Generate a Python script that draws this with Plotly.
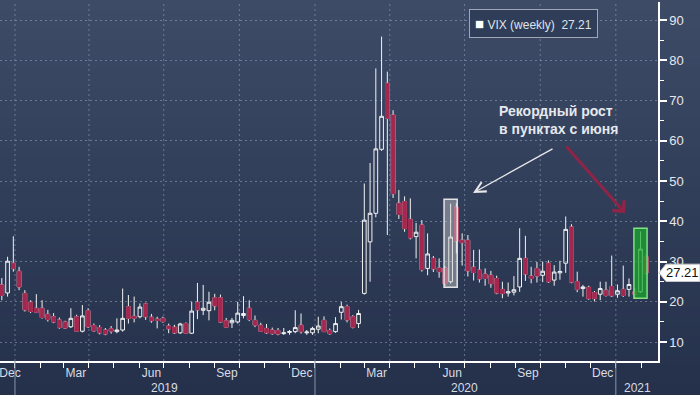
import pandas as pd
import plotly.graph_objects as go

# ---------------- data (weekly VIX candles) ----------------
week_start = "2018-12-16"   # first visible weekly bar (week ending)
opens = [24.2, 22.2, 29.6, 27.6, 22.1, 19.9, 18.4, 18.4, 16.9, 16.3, 15.5, 15.0, 13.8, 16.3, 12.7, 17.8,
         14.1, 13.6, 13.0, 13.3, 12.6, 13.0, 18.8, 16.4, 16.3, 19.5, 16.2, 15.7, 15.9, 14.0, 13.7, 12.3,
         14.6, 12.2, 19.9, 17.9, 17.8, 21.0, 21.0, 15.3, 14.8, 15.0, 16.6, 18.4, 15.4, 14.2, 13.4, 13.0,
         12.9, 12.1, 12.4, 12.6, 14.2, 12.3, 12.3, 13.2, 15.4, 12.9, 12.6, 17.4, 18.8, 16.3, 14.6, 22.1,
         34.9, 42.0, 57.9, 74.3, 66.4, 44.5, 44.9, 40.5, 36.2, 39.1, 28.3, 30.8, 28.4, 28.4, 25.0, 43.5,
         35.3, 35.3, 28.6, 27.9, 26.9, 26.6, 25.8, 23.1, 22.2, 22.4, 23.7, 30.8, 26.4, 28.3, 26.6, 29.6,
         25.4, 27.2, 29.6, 38.6, 25.0, 23.3, 23.6, 22.3, 21.9, 22.9, 23.8, 21.9, 23.1, 23.1, 22.5, 22.5,
         31.2]
highs = [25.9, 31.2, 36.3, 28.7, 22.9, 20.4, 21.9, 20.4, 18.0, 17.2, 16.1, 15.3, 18.4, 16.8, 19.2, 18.4,
         14.6, 14.2, 13.5, 14.0, 15.9, 23.3, 21.7, 21.3, 19.6, 19.8, 17.0, 16.3, 16.3, 14.6, 14.3, 14.8,
         14.9, 20.0, 24.7, 24.2, 22.5, 22.0, 21.8, 16.0, 16.0, 20.0, 21.4, 20.4, 16.6, 14.8, 14.5, 13.6,
         13.5, 13.5, 13.0, 17.9, 17.1, 13.0, 13.8, 16.3, 16.4, 13.4, 16.2, 20.0, 19.3, 16.7, 18.0, 49.4,
         54.5, 78.0, 85.9, 77.2, 67.6, 47.8, 46.2, 45.7, 39.6, 40.3, 37.0, 31.4, 30.8, 28.9, 44.4, 44.5,
         37.0, 36.6, 32.9, 33.0, 28.3, 27.7, 26.5, 25.0, 24.8, 26.4, 38.3, 36.4, 28.7, 29.9, 30.0, 30.3,
         29.1, 30.2, 41.2, 39.3, 27.5, 24.2, 24.0, 22.7, 25.0, 25.0, 31.5, 24.3, 29.0, 25.8, 23.5, 37.5,
         31.6]
lows = [20.4, 21.3, 27.5, 22.9, 17.6, 17.2, 17.2, 15.8, 15.1, 14.7, 13.3, 13.3, 13.5, 12.5, 12.4, 13.5,
        12.6, 11.9, 11.7, 12.1, 12.2, 12.6, 14.6, 14.9, 15.9, 15.5, 14.8, 13.4, 14.8, 12.2, 12.0, 12.0,
        12.0, 12.0, 15.7, 16.7, 15.4, 17.9, 14.8, 13.5, 13.5, 14.6, 15.9, 15.2, 13.7, 12.5, 12.0, 11.8,
        11.7, 11.8, 11.8, 12.2, 12.1, 11.8, 11.8, 12.2, 12.5, 11.8, 12.3, 15.6, 14.9, 13.4, 13.5, 21.8,
        25.0, 41.0, 57.5, 36.6, 45.8, 40.6, 37.4, 35.5, 30.8, 27.5, 26.6, 27.4, 26.0, 23.9, 24.5, 32.0,
        29.0, 26.3, 25.3, 24.8, 24.0, 23.5, 21.9, 20.9, 21.3, 21.6, 22.5, 25.2, 24.6, 24.8, 24.9, 24.7,
        24.0, 25.5, 27.2, 24.6, 22.4, 21.3, 20.5, 20.1, 20.4, 21.3, 21.2, 21.0, 21.2, 21.3, 21.0, 22.2,
        26.8]
closes = [21.6, 30.1, 28.3, 23.7, 18.0, 17.6, 17.4, 16.1, 15.6, 15.0, 13.6, 13.5, 15.9, 12.7, 16.5, 13.8,
          12.8, 12.3, 12.0, 12.7, 13.0, 15.9, 15.9, 15.9, 18.7, 16.3, 15.3, 15.4, 15.1, 13.3, 12.3, 14.5,
          12.2, 17.7, 18.0, 18.4, 19.9, 19.0, 15.0, 13.7, 15.4, 17.2, 17.1, 15.6, 14.2, 12.7, 12.3, 12.1,
          12.0, 12.3, 12.6, 13.6, 12.6, 12.5, 13.4, 14.0, 12.6, 12.1, 14.6, 18.8, 15.5, 13.7, 17.1, 40.3,
          42.0, 58.0, 66.1, 65.6, 46.9, 41.7, 38.2, 35.9, 37.3, 28.0, 31.9, 28.2, 27.5, 24.5, 36.1, 35.1,
          34.7, 27.7, 27.3, 25.7, 25.8, 24.5, 22.2, 22.05, 22.5, 23.0, 30.8, 26.9, 25.8, 26.4, 27.6, 25.0,
          27.4, 27.55, 38.0, 24.9, 23.1, 23.7, 20.8, 20.8, 23.3, 21.6, 21.5, 22.75, 21.6, 24.3, 21.9, 33.1,
          27.21]

month_labels = ["Dec", "Mar", "Jun", "Sep", "Dec", "Mar", "Jun", "Sep", "Dec"]
month_label_dates = ["2018-12-26", "2019-03-16", "2019-06-16", "2019-09-16", "2019-12-16",
                     "2020-03-16", "2020-06-16", "2020-09-16", "2020-12-16"]
year_labels = ["2019", "2020", "2021"]
year_label_dates = ["2019-07-02", "2020-07-01", "2021-01-27"]
year_starts = ["2019-01-01", "2020-01-01", "2021-01-01"]
quarter_starts = ["2019-01-01", "2019-04-01", "2019-07-01", "2019-10-01", "2020-01-01",
                  "2020-04-01", "2020-07-01", "2020-10-01", "2021-01-01"]
y_ticks = [10, 20, 30, 40, 50, 60, 70, 80, 90]

series_name = "VIX (weekly)"
last_value = closes[-1]
highlight_june = 78     # list index of the 12 June 2020 bar
highlight_last = 111    # list index of the 29 January 2021 bar
note_text = "Рекордный рост<br>в пунктах с июня"

# ---------------- build ----------------
dates = pd.date_range(week_start, periods=len(closes), freq="7D")

RED = "#a3284f"
WHITE = "#f2f2f2"
TXT = "#d8dce4"
GRID = "rgba(150,165,195,0.55)"

W, H = 700, 395
ML, MR, MT, MB = 0, 42, 2, 34
PW, PH = W - ML - MR, H - MT - MB


def px_x(x):
    return (x - ML) / PW


def px_y(y):
    return (H - MB - y) / PH


fig = go.Figure()

# full candles: white outline / wicks
fig.add_trace(go.Candlestick(
    x=dates, open=opens, high=highs, low=lows, close=closes,
    increasing=dict(line=dict(color=WHITE, width=1), fillcolor="rgba(0,0,0,0)"),
    decreasing=dict(line=dict(color=WHITE, width=1), fillcolor=RED),
    whiskerwidth=0, showlegend=False, name=series_name,
))

# red bodies for falling weeks (covers the white outline)
dn = [i for i in range(len(closes)) if closes[i] < opens[i]]
fig.add_trace(go.Candlestick(
    x=[dates[i] for i in dn],
    open=[opens[i] for i in dn], close=[closes[i] for i in dn],
    high=[opens[i] for i in dn], low=[closes[i] for i in dn],
    increasing=dict(line=dict(color=RED, width=1), fillcolor=RED),
    decreasing=dict(line=dict(color=RED, width=1), fillcolor=RED),
    whiskerwidth=0, showlegend=False, hoverinfo="skip",
))

shapes = []
# vertical gradient background
top_c = (61, 75, 103)
bot_c = (37, 49, 75)
N = 40
for i in range(N):
    t = i / (N - 1)
    c = tuple(int(round(top_c[k] + (bot_c[k] - top_c[k]) * t)) for k in range(3))
    y_top = i * H / N
    y_bot = (i + 1) * H / N + 0.6
    shapes.append(dict(type="rect", xref="paper", yref="paper", layer="below",
                       x0=px_x(0), x1=px_x(W), y0=px_y(y_bot), y1=px_y(y_top),
                       fillcolor="rgb(%d,%d,%d)" % c, line=dict(width=0)))
# quarterly vertical grid lines
for d in quarter_starts:
    shapes.append(dict(type="line", xref="x", yref="paper", layer="below",
                       x0=d, x1=d, y0=0, y1=1, line=dict(color=GRID, width=1, dash="2px,3px")))
# year separators below the axis
for d in year_starts:
    shapes.append(dict(type="line", xref="x", yref="paper", layer="above",
                       x0=d, x1=d, y0=px_y(H), y1=0, line=dict(color="#8794ab", width=1)))

# highlight boxes
dj = dates[highlight_june]
shapes.append(dict(type="rect", xref="x", yref="y", layer="above",
                   x0=dj - pd.Timedelta(days=8), x1=dj + pd.Timedelta(days=8),
                   y0=lows[highlight_june] - 0.9, y1=highs[highlight_june] + 1.1,
                   fillcolor="rgba(215,215,215,0.42)", line=dict(color="rgba(235,235,235,0.95)", width=1.5)))
dl = dates[highlight_last]
shapes.append(dict(type="rect", xref="x", yref="y", layer="above",
                   x0=dl - pd.Timedelta(days=8), x1=dl + pd.Timedelta(days=8),
                   y0=lows[highlight_last] - 1.3, y1=highs[highlight_last] + 0.8,
                   fillcolor="rgba(25,170,45,0.72)", line=dict(color="rgba(130,225,130,1)", width=1.5)))

# last-price tag: white box with a pointer
tip = px_x(659)
base = px_x(666)
shapes.append(dict(type="path", xref="paper", yref="y", layer="above",
                   path="M %f,%f L %f,%f L %f,%f L %f,%f L %f,%f Z" % (
                       tip, last_value, base, last_value + 2.15, px_x(700), last_value + 2.15,
                       px_x(700), last_value - 2.15, base, last_value - 2.15),
                   fillcolor="white", line=dict(color="#c8c8c8", width=1)))

annotations = []
for d, t in zip(year_label_dates, year_labels):
    annotations.append(dict(x=d, xref="x", y=px_y(387.5), yref="paper", text=t, showarrow=False,
                            xanchor="center", yanchor="middle", font=dict(size=12, color=TXT)))

# legend box
annotations.append(dict(x=px_x(469), y=px_y(23), xref="paper", yref="paper", xanchor="left", yanchor="middle",
                        text="<span style='color:#ffffff;font-size:15px'>■</span> %s  %.2f" % (series_name, last_value),
                        showarrow=False, align="left", font=dict(size=12, color="#dfe2e9"),
                        bgcolor="#303d58", bordercolor="#a0a8b8", borderwidth=1, borderpad=5))

# last-price text
annotations.append(dict(x=px_x(682.5), y=last_value, xref="paper", yref="y", xanchor="center", yanchor="middle",
                        text="%.2f" % last_value, showarrow=False,
                        font=dict(size=13, color="#111111")))

# commentary
annotations.append(dict(x=px_x(497), y=px_y(101), xref="paper", yref="paper", xanchor="left", yanchor="top",
                        text="<b>%s</b>" % note_text, showarrow=False, align="left",
                        font=dict(size=14, color="#e6e8ee")))
annotations.append(dict(x=px_x(473), y=px_y(193), xref="paper", yref="paper", text="", showarrow=True,
                        ax=554 - 473, ay=148 - 193, arrowhead=5, arrowsize=1.6, arrowwidth=1.3,
                        arrowcolor="#e8e8ec"))
annotations.append(dict(x=px_x(625), y=px_y(213), xref="paper", yref="paper", text="", showarrow=True,
                        ax=565 - 625, ay=145 - 213, arrowhead=4, arrowsize=1.0, arrowwidth=3,
                        arrowcolor="#8e2446"))

fig.update_layout(
    width=W, height=H, autosize=False,
    margin=dict(l=ML, r=MR, t=MT, b=MB),
    paper_bgcolor="rgb(48,61,88)", plot_bgcolor="rgba(0,0,0,0)",
    font=dict(family="Arial, Liberation Sans, sans-serif", color=TXT),
    boxgap=0.2, boxgroupgap=0.2,
    shapes=shapes, annotations=annotations, showlegend=False,
    xaxis=dict(
        type="date", range=["2018-12-13 19:00", "2021-02-21 07:00"],
        rangeslider=dict(visible=False),
        tickmode="array", tickvals=month_label_dates, ticktext=month_labels,
        ticks="", tickfont=dict(size=12, color=TXT), ticklabeloverflow="allow",
        ticklabelstandoff=0,
        showgrid=False, zeroline=False,
        showline=True, linecolor="white", linewidth=1.5,
        minor=dict(ticks="outside", ticklen=5, tickcolor="white", tickwidth=1,
                   tick0="2018-12-01", dtick="M1", showgrid=False),
        fixedrange=True,
    ),
    yaxis=dict(
        side="right", range=[5.3, 94.5],
        tickmode="array", tickvals=y_ticks,
        ticks="outside", ticklen=7, tickwidth=2, tickcolor="white",
        tickfont=dict(size=13, color="#e4e7ee"),
        showgrid=True, gridcolor=GRID, griddash="2px,3px", gridwidth=1,
        zeroline=False, showline=True, linecolor="white", linewidth=1.5,
        minor=dict(ticks="outside", ticklen=4, tickcolor="white", tickwidth=1, dtick=5, tick0=0,
                   showgrid=False),
        fixedrange=True,
    ),
)

fig.write_html("out.html", config={"displayModeBar": False},
               post_script="document.body.style.margin='0';document.body.style.overflow='hidden';")
